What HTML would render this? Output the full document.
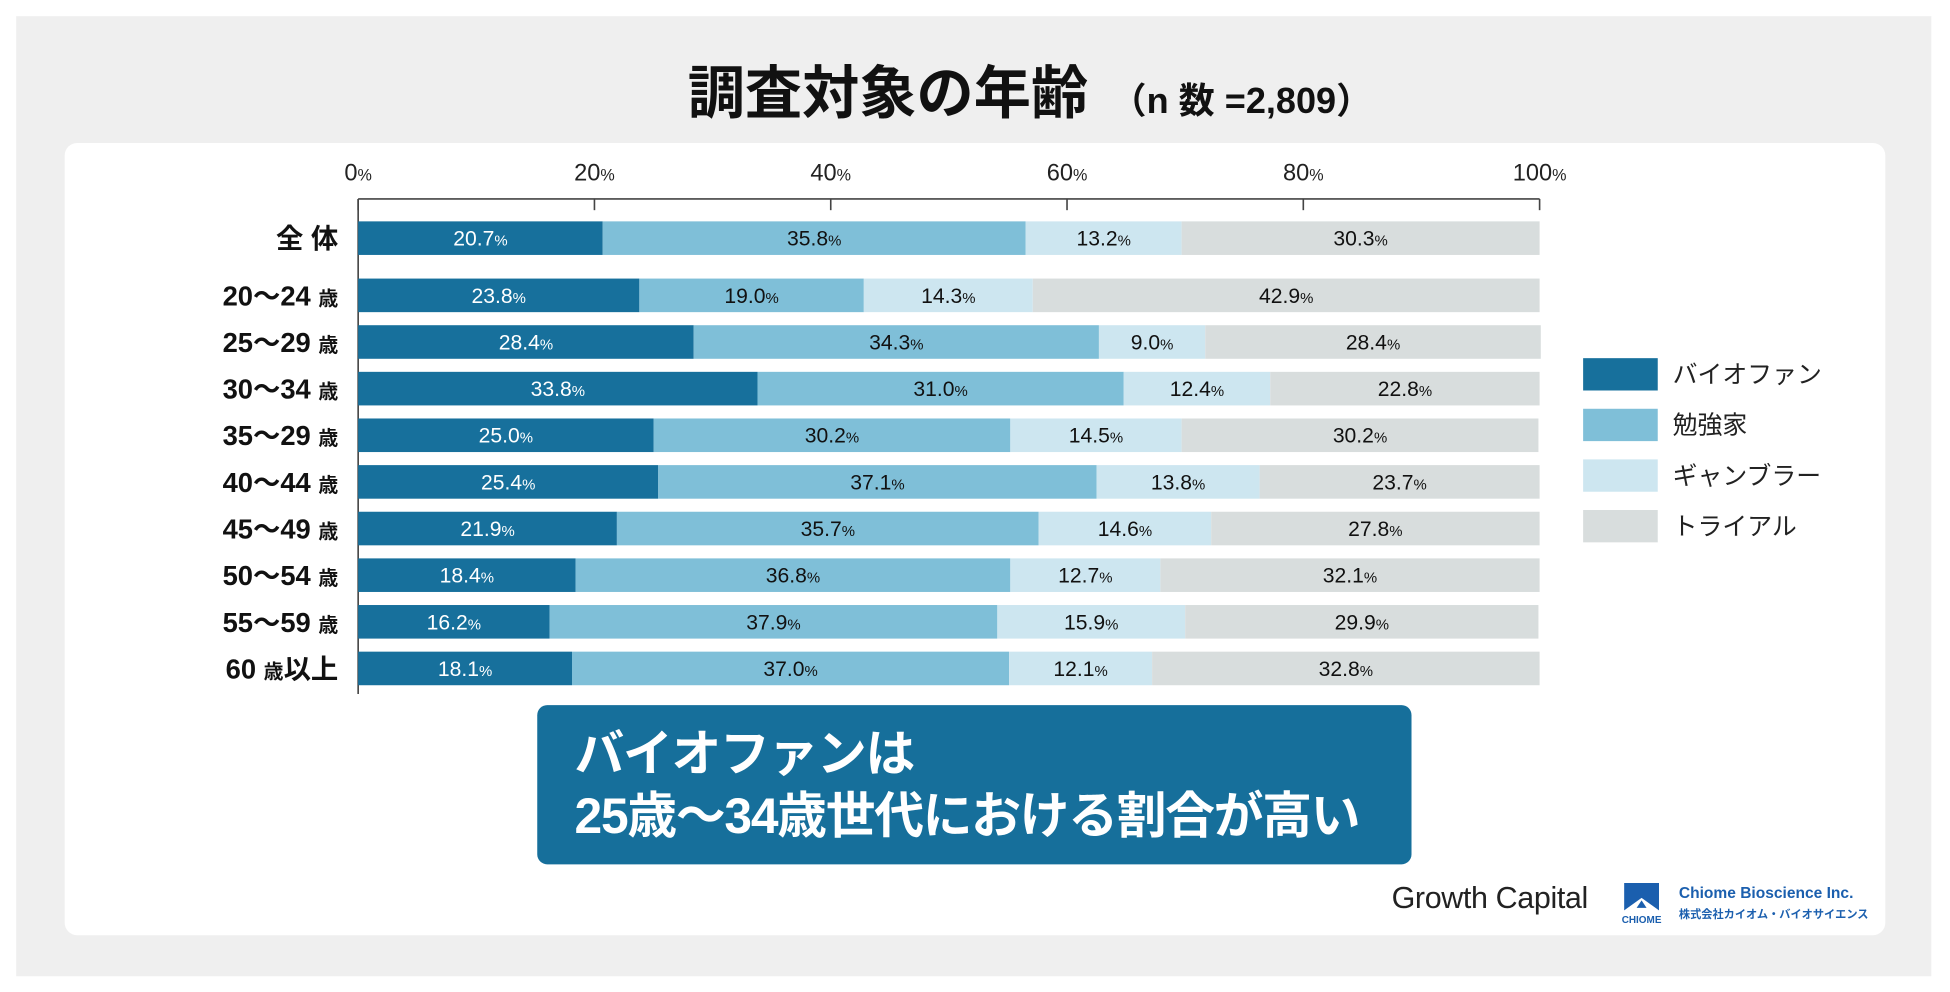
<!DOCTYPE html>
<html><head><meta charset="utf-8">
<style>
html,body{margin:0;padding:0;width:1950px;height:992px;overflow:hidden;background:#fff;}
#wrap{position:absolute;left:0;top:0;width:1568px;height:798px;transform:scale(1.24362);transform-origin:0 0;font-family:"Liberation Sans","Noto Sans CJK JP",sans-serif;}
.abs{position:absolute;}
</style></head>
<body>
<div id="wrap">
  <div class="abs" style="left:13px;top:13px;width:1540px;height:772px;background:#efefef;"></div>
  <div class="abs" style="left:52px;top:115px;width:1464px;height:637px;background:#fff;border-radius:10px;"></div>
  <div class="abs" style="left:553px;top:48px;white-space:nowrap;font-weight:bold;font-size:46px;color:#111;line-height:54px;">調査対象の年齢<span style="font-size:29px;margin-left:18px;">（n 数 =2,809）</span></div>
  <svg id="chart" class="abs" style="left:0;top:0;" width="1568" height="798"></svg>
  <div class="abs" style="left:432px;top:567px;width:703px;height:128px;background:#166f9b;border-radius:8px;color:#fff;font-weight:bold;font-size:40px;line-height:50px;padding:15px 0 0 30px;box-sizing:border-box;white-space:nowrap;letter-spacing:-1px;">バイオファンは<br>25歳〜34歳世代における割合が高い</div>
  <div class="abs" style="left:1119px;top:709px;font-size:24.5px;color:#222;letter-spacing:-0.3px;">Growth Capital</div>
  <svg class="abs" style="left:1302px;top:708px;" width="36" height="36">
    <polygon points="4,2 32,2 32,24 18,14 4,24" fill="#1b5fae"/>
    <polygon points="14,22 18,16 22,22" fill="#1b5fae"/>
    <text x="18" y="34" text-anchor="middle" font-size="8" font-weight="bold" fill="#1b5fae" font-family="Liberation Sans, sans-serif">CHIOME</text>
  </svg>
  <div class="abs" style="left:1350px;top:711px;font-size:12.5px;font-weight:bold;color:#1b5fae;">Chiome Bioscience Inc.</div>
  <div class="abs" style="left:1350px;top:728px;font-size:9px;font-weight:bold;color:#1b5fae;">株式会社カイオム・バイオサイエンス</div>
</div>
<script>
const categories = ["全 体","20〜24 歳","25〜29 歳","30〜34 歳","35〜29 歳","40〜44 歳","45〜49 歳","50〜54 歳","55〜59 歳","60 歳以上"];
const seriesNames = ["バイオファン","勉強家","ギャンブラー","トライアル"];
const bioFan = [20.7,23.8,28.4,33.8,25.0,25.4,21.9,18.4,16.2,18.1];
const studier = [35.8,19.0,34.3,31.0,30.2,37.1,35.7,36.8,37.9,37.0];
const gambler = [13.2,14.3,9.0,12.4,14.5,13.8,14.6,12.7,15.9,12.1];
const trial = [30.3,42.9,28.4,22.8,30.2,23.7,27.8,32.1,29.9,32.8];
const ticks = [0,20,40,60,80,100];

const series=[bioFan,studier,gambler,trial];
const colors=["#17709c","#7fbfd8","#cde6f0","#d8dddd"];
const textColors=["#fff","#111","#111","#111"];
const NS="http://www.w3.org/2000/svg";
const svg=document.getElementById('chart');
const x0=288,x1=1238;
const xs=v=>x0+(x1-x0)*v/100;
const rowTop=i=> i===0?178:224+(i-1)*37.5;
const barH=27;
function mk(tag,attrs,parent){const e=document.createElementNS(NS,tag);for(const k in attrs)e.setAttribute(k,attrs[k]);(parent||svg).appendChild(e);return e;}
let ax=mk('line',{x1:x0,y1:160,x2:x1,y2:160,stroke:'#444','stroke-width':1.3});

let ay=mk('line',{x1:x0,y1:160,x2:x0,y2:558,stroke:'#444','stroke-width':1.3});

ticks.forEach(t=>{
  const tl=mk('line',{x1:xs(t),y1:160,x2:xs(t),y2:169,stroke:'#444','stroke-width':1.3});
  
  const tx=mk('text',{x:xs(t),y:145,'text-anchor':'middle','font-size':19,fill:'#222'});
  
  tx.innerHTML=t+'<tspan font-size="13">%</tspan>';
});
categories.forEach((c,i)=>{
  const y=rowTop(i);
  const lb=mk('text',{x:272,y:y+barH/2+8,'text-anchor':'end','font-size':22,'font-weight':'bold',fill:'#111'});
  
  if(i===0){lb.textContent=c;}else{
    const m=c.match(/^(\S+) (.+)$/);
    lb.innerHTML=m[1]+' <tspan font-size="16">'+m[2].replace(/以上/,'</tspan>以上<tspan>')+'</tspan>';
  }
  let acc=0;
  series.forEach((s,k)=>{
    const v=s[i];
    const r=mk('rect',{x:xs(acc),y:y,width:xs(acc+v)-xs(acc),height:barH,fill:colors[k]});
    
    const t=mk('text',{x:(xs(acc)+xs(acc+v))/2,y:y+barH/2+6,'text-anchor':'middle','font-size':17,fill:textColors[k]});
    
    t.innerHTML=v.toFixed(1)+'<tspan font-size="12">%</tspan>';
    acc+=v;
  });
});
seriesNames.forEach((n,k)=>{
  const y=288+k*40.7;
  const r=mk('rect',{x:1273,y:y,width:60,height:26,fill:colors[k]});
  
  const t=mk('text',{x:1345,y:y+20,'font-size':20,fill:'#222'});
  
  t.textContent=n;
});
</script>
</body></html>
